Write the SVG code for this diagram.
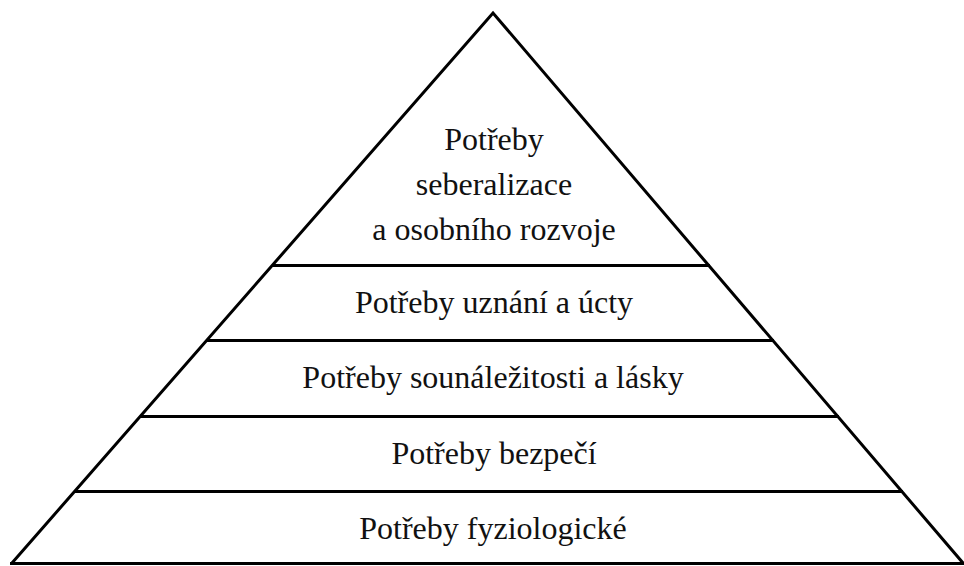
<svg xmlns="http://www.w3.org/2000/svg" width="964" height="566" viewBox="0 0 964 566">
<style>
.ln{stroke:#000;stroke-width:3;fill:none;stroke-linejoin:miter}
.t{font-family:"Liberation Serif","Times New Roman",serif;font-size:32px;fill:#111;text-anchor:middle}
</style>
<rect width="964" height="566" fill="#fff"/>
<g id="connectors">
<polyline class="ln" points="12,563 493,13 963,563"/>
<line class="ln" x1="10" y1="563.5" x2="964" y2="563.5"/>
<line class="ln" x1="272" y1="265.5" x2="710" y2="265.5"/>
<line class="ln" x1="206" y1="340.5" x2="774" y2="340.5"/>
<line class="ln" x1="140" y1="416.5" x2="839" y2="416.5"/>
<line class="ln" x1="75" y1="491.5" x2="903" y2="491.5"/>
</g>
<g id="level5"><text class="t" x="494" y="150">Potřeby</text><text class="t" x="494" y="195">seberalizace</text><text class="t" x="494" y="240">a osobního rozvoje</text></g>
<g id="level4"><text class="t" x="494" y="313">Potřeby uznání a úcty</text></g>
<g id="level3"><text class="t" x="493" y="388">Potřeby sounáležitosti a lásky</text></g>
<g id="level2"><text class="t" x="494" y="464">Potřeby bezpečí</text></g>
<g id="level1"><text class="t" x="493" y="539">Potřeby fyziologické</text></g>
</svg>
